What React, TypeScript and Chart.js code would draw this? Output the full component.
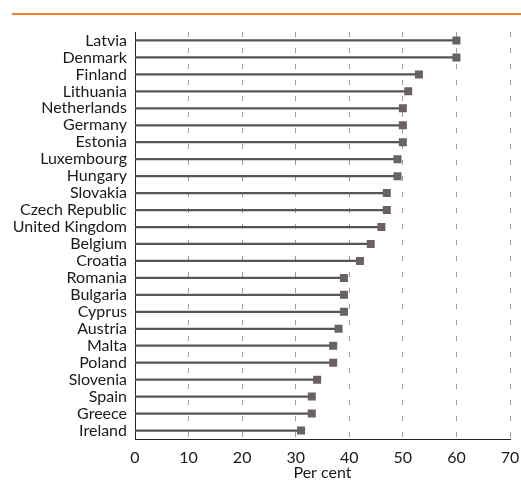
import React, { useEffect, useRef } from "react";
import { Chart, registerables } from "chart.js";

Chart.register(...registerables);

const countries = [
  "Latvia", "Denmark", "Finland", "Lithuania", "Netherlands", "Germany", "Estonia",
  "Luxembourg", "Hungary", "Slovakia", "Czech Republic", "United Kingdom", "Belgium",
  "Croatia", "Romania", "Bulgaria", "Cyprus", "Austria", "Malta", "Poland",
  "Slovenia", "Spain", "Greece", "Ireland",
];
const values = [
  60, 60, 53, 51, 50, 50, 50,
  49, 49, 47, 47, 46, 44,
  42, 39, 39, 39, 38, 37, 37,
  34, 33, 33, 31,
];
const xTicks = [0, 10, 20, 30, 40, 50, 60, 70];
const xTitle = "Per cent";

export default function App() {
  const ref = useRef<HTMLCanvasElement>(null);
  useEffect(() => {
    if (!ref.current) return;
    const font = { family: "Lato, 'Open Sans', sans-serif", size: 16 };
    const chart = new Chart(ref.current, {
      type: "bar",
      data: {
        labels: countries,
        datasets: [
          {
            type: "line",
            data: values,
            showLine: false,
            pointStyle: "rect",
            pointRadius: 5.66,
            pointHoverRadius: 5.66,
            pointBackgroundColor: "#6a6161",
            pointBorderWidth: 0,
            borderWidth: 0,
          } as any,
          {
            type: "bar",
            data: values,
            backgroundColor: "#555555",
            barThickness: 1.6,
          },
        ],
      },
      options: {
        indexAxis: "y",
        animation: false,
        responsive: false,
        maintainAspectRatio: false,
        layout: { padding: { left: 0, right: 11, top: 32, bottom: 0 } },
        plugins: { legend: { display: false }, tooltip: { enabled: false } },
        scales: {
          x: {
            type: "linear",
            min: 0,
            max: 70,
            afterBuildTicks: (s: any) => {
              s.ticks = xTicks.map((v) => ({ value: v }));
            },
            afterFit: (s: any) => {
              s.height = 43;
              s.paddingRight = 0;
              s.paddingLeft = 0;
            },
            grid: { color: "#9a9a9a", lineWidth: 1, drawTicks: false },
            border: { display: true, color: "#222", width: 1, dash: [5, 11] },
            ticks: { color: "#1a1a1a", font, padding: 9 },
            title: { display: true, text: xTitle, color: "#1a1a1a", font, padding: { top: 0, bottom: 0 } },
          },
          y: {
            afterFit: (s: any) => {
              s.width = 135;
              s.paddingTop = 0;
              s.paddingBottom = 0;
            },
            grid: { display: false, drawTicks: false },
            border: { display: true, color: "#222", width: 1 },
            ticks: { color: "#1a1a1a", font, padding: 8, autoSkip: false },
          },
        },
      },
    });
    return () => chart.destroy();
  }, []);
  return (
    <div style={{ position: "absolute", left: 0, top: 0, width: 521, height: 482, background: "#fff" }}>
      <div style={{ position: "absolute", left: 12, top: 13, width: 509, height: 2, background: "#ef8030" }} />
      <canvas ref={ref} width={521} height={482} style={{ position: "absolute", left: 0, top: 0 }} />
    </div>
  );
}
